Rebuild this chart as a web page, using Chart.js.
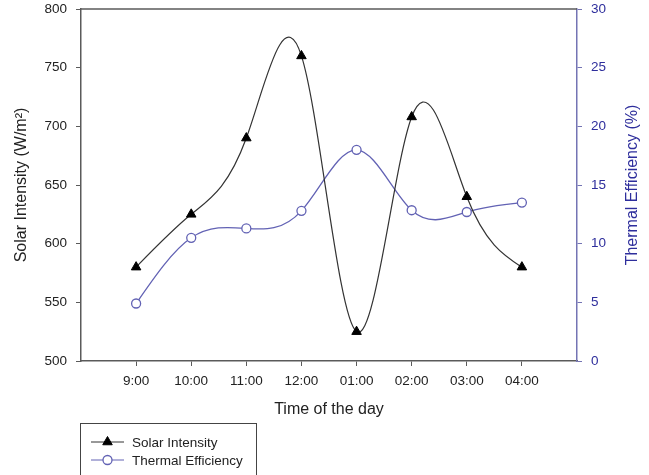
<!DOCTYPE html>
<html>
<head>
<meta charset="utf-8">
<title>Solar Intensity and Thermal Efficiency</title>
<script src="https://cdn.jsdelivr.net/npm/chart.js@4/dist/chart.umd.min.js"></script>
<style>
    html, body { margin: 0; padding: 0; background: #fff; }
    #wrap { position: relative; width: 649px; height: 475px; }
</style>
</head>
<body>
<div id="wrap"><canvas id="EffChart"></canvas></div>
<script>
var timeLabels = ["9:00", "10:00", "11:00", "12:00", "01:00", "02:00", "03:00", "04:00"];
var solarIntensity = [580, 625, 690, 760, 525, 708, 640, 580];
var thermalEfficiency = [4.9, 10.5, 11.3, 12.8, 18.0, 12.85, 12.7, 13.5];
var solarTicks = [500, 550, 600, 650, 700, 750, 800];
var effTicks = [0, 5, 10, 15, 20, 25, 30];

var yAxisLabelSolar = "Solar Intensity (W/m\u00B2)";
var yAxisLabelEff = "Thermal Efficiency (%)";
var xAxisLabel = "Time of the day";

var axisGray = "#5a5a5a";
var effBlue = "#6262b4";
var effText = "#2e2e9c";
var fontFamily = "'Liberation Sans', Arial, sans-serif";

Chart.defaults.font.family = fontFamily;
Chart.defaults.color = "#222";

function toPoints(values){
    return values.map(function(v, i){ return {x: i, y: v}; });
}

function fixedTicks(values){
    return function(scale){
        scale.ticks = values.map(function(v){ return {value: v}; });
    };
}

function fixWidth(w){
    return function(scale){
        scale.width = w;
        scale.paddingTop = 0;
        scale.paddingBottom = 0;
    };
}

// natural cubic spline through the drawn points, written into the
// bezier control points that the line element already uses
function naturalSplineControlPoints(points){
    var n = points.length - 1;
    if (n < 2) return;
    var h = [], M = [], a = [], b = [], c = [], d = [];
    for (var i = 0; i < n; i++) h.push(points[i + 1].x - points[i].x);
    for (var i = 1; i < n; i++) {
        a[i] = h[i - 1];
        b[i] = 2 * (h[i - 1] + h[i]);
        c[i] = h[i];
        d[i] = 6 * ((points[i + 1].y - points[i].y) / h[i] - (points[i].y - points[i - 1].y) / h[i - 1]);
    }
    // thomas algorithm, M[0] = M[n] = 0
    for (var i = 2; i < n; i++) {
        var w = a[i] / b[i - 1];
        b[i] -= w * c[i - 1];
        d[i] -= w * d[i - 1];
    }
    M[0] = 0; M[n] = 0;
    for (var i = n - 1; i >= 1; i--) {
        M[i] = (d[i] - (i < n - 1 ? c[i] * M[i + 1] : 0)) / b[i];
    }
    for (var i = 0; i <= n; i++) {
        var slope;
        if (i < n) {
            slope = (points[i + 1].y - points[i].y) / h[i] - h[i] * (2 * M[i] + M[i + 1]) / 6;
        } else {
            slope = (points[n].y - points[n - 1].y) / h[n - 1] + h[n - 1] * (M[n - 1] + 2 * M[n]) / 6;
        }
        var p = points[i];
        var hl = i > 0 ? h[i - 1] / 3 : 0;
        var hr = i < n ? h[i] / 3 : 0;
        p.cp1x = p.x - hl;
        p.cp1y = p.y - slope * hl;
        p.cp2x = p.x + hr;
        p.cp2y = p.y + slope * hr;
    }
}

var splinePlugin = {
    id: 'naturalSpline',
    beforeDatasetDraw: function(chart, args){
        var line = args.meta.dataset;
        if (!line) return;
        line.updateControlPoints(chart.chartArea, 'x');
        naturalSplineControlPoints(line.points);
        line._path = undefined;
    }
};

// frame line on top, right axis title and the boxed legend under the chart
var extrasPlugin = {
    id: 'extras',
    afterDraw: function(chart){
        var ctx = chart.ctx;
        var area = chart.chartArea;
        ctx.save();

        ctx.strokeStyle = axisGray;
        ctx.lineWidth = 1.5;
        ctx.beginPath();
        ctx.moveTo(area.left, area.top);
        ctx.lineTo(area.right, area.top);
        ctx.stroke();

        ctx.fillStyle = effText;
        ctx.font = "16px " + fontFamily;
        ctx.textAlign = "center";
        ctx.textBaseline = "middle";
        ctx.translate(633, (area.top + area.bottom) / 2);
        ctx.rotate(-Math.PI / 2);
        ctx.fillText(yAxisLabelEff, 0, 0);
        ctx.setTransform(1, 0, 0, 1, 0, 0);

        ctx.strokeStyle = "#444";
        ctx.lineWidth = 1;
        ctx.strokeRect(80.5, 423.5, 176, 70);

        var rows = chart.data.datasets;
        for (var i = 0; i < rows.length; i++) {
            var ds = rows[i];
            var y = 442 + i * 18;
            ctx.strokeStyle = ds.borderColor;
            ctx.lineWidth = 1;
            ctx.beginPath();
            ctx.moveTo(91, y);
            ctx.lineTo(124, y);
            ctx.stroke();
            ctx.fillStyle = ds.pointBackgroundColor;
            ctx.strokeStyle = ds.pointBorderColor;
            ctx.lineWidth = ds.pointBorderWidth;
            Chart.helpers.drawPoint(ctx, {
                pointStyle: ds.pointStyle,
                radius: ds.pointRadius,
                borderWidth: ds.pointBorderWidth,
                rotation: 0
            }, 107.5, y);
            ctx.fillStyle = "#222";
            ctx.font = "13.5px " + fontFamily;
            ctx.textAlign = "left";
            ctx.textBaseline = "middle";
            ctx.fillText(ds.label, 132, y + 1);
        }
        ctx.restore();
    }
};

function setupChart(){
    var data = {
        datasets: [
            {
                label: "Solar Intensity",
                data: toPoints(solarIntensity),
                yAxisID: 'y',
                borderColor: "#333",
                borderWidth: 1.2,
                tension: 0.4,
                pointStyle: 'triangle',
                pointRadius: 5.5,
                pointBackgroundColor: "#000",
                pointBorderColor: "#000",
                pointBorderWidth: 1
            },
            {
                label: "Thermal Efficiency",
                data: toPoints(thermalEfficiency),
                yAxisID: 'y1',
                borderColor: effBlue,
                borderWidth: 1.3,
                tension: 0.4,
                pointStyle: 'circle',
                pointRadius: 4.5,
                pointBackgroundColor: "#fff",
                pointBorderColor: effBlue,
                pointBorderWidth: 1.3
            }
        ]
    };

    var config = {
        type: 'line',
        data: data,
        plugins: [splinePlugin, extrasPlugin],
        options: {
            responsive: true,
            maintainAspectRatio: false,
            animation: false,
            layout: {
                padding: {left: 8, right: 0, top: 9, bottom: 52}
            },
            plugins: {
                legend: {display: false},
                tooltip: {enabled: false}
            },
            scales: {
                x: {
                    type: 'linear',
                    min: -1,
                    max: 8,
                    afterBuildTicks: fixedTicks(timeLabels.map(function(t, i){ return i; })),
                    afterFit: function(scale){
                        scale.height = 62;
                        scale.paddingLeft = 0;
                        scale.paddingRight = 0;
                    },
                    border: {color: axisGray, width: 1.5},
                    grid: {drawOnChartArea: false, drawTicks: true, tickLength: 5, color: axisGray},
                    ticks: {
                        padding: 7,
                        maxRotation: 0,
                        font: {size: 13.5},
                        callback: function(v){ return timeLabels[v]; }
                    },
                    title: {
                        display: true,
                        text: xAxisLabel,
                        font: {size: 16},
                        padding: {top: 4, bottom: 4}
                    }
                },
                y: {
                    position: 'left',
                    min: 500,
                    max: 800,
                    afterBuildTicks: fixedTicks(solarTicks),
                    afterFit: fixWidth(73),
                    border: {color: axisGray, width: 1.5},
                    grid: {drawOnChartArea: false, drawTicks: true, tickLength: 5, color: axisGray},
                    ticks: {padding: 9, font: {size: 13.5}},
                    title: {
                        display: true,
                        text: yAxisLabelSolar,
                        font: {size: 16},
                        padding: {top: 4, bottom: 4}
                    }
                },
                y1: {
                    position: 'right',
                    min: 0,
                    max: 30,
                    afterBuildTicks: fixedTicks(effTicks),
                    afterFit: fixWidth(72),
                    border: {color: "#7474b4", width: 1.5},
                    grid: {drawOnChartArea: false, drawTicks: true, tickLength: 5, color: "#7474b4"},
                    ticks: {padding: 9, color: effText, font: {size: 13.5}},
                    title: {display: false}
                }
            }
        }
    };

    return new Chart(document.getElementById('EffChart'), config);
}

var EffChart = setupChart();
</script>
</body>
</html>
